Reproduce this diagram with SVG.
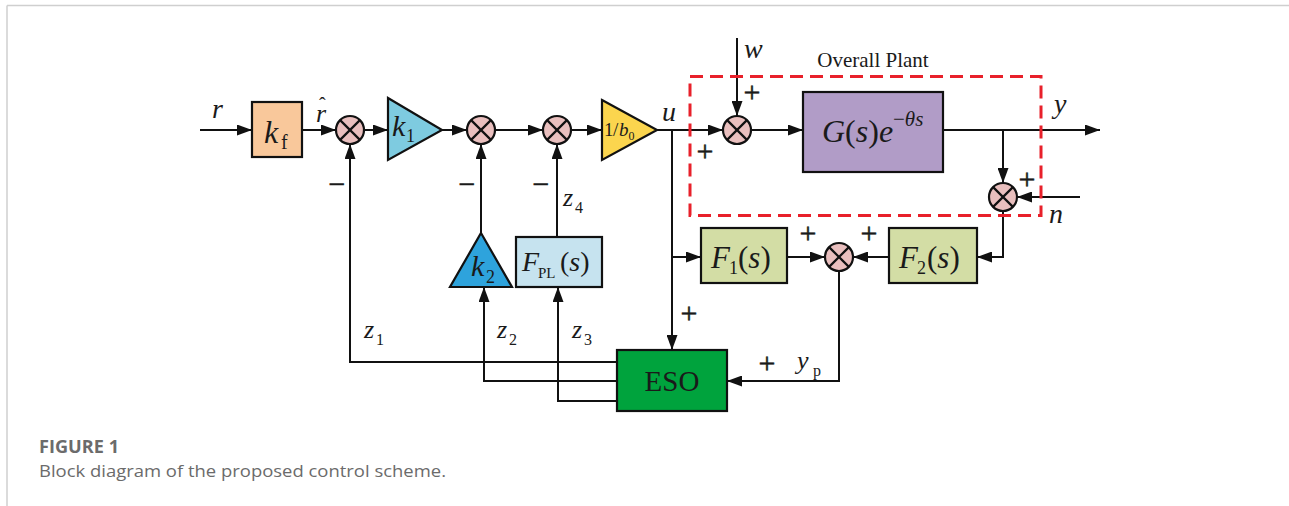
<svg xmlns="http://www.w3.org/2000/svg" width="1289" height="506" viewBox="0 0 1289 506">
<style>
.ln{fill:none;stroke:#111;stroke-width:2}
.bx{stroke:#111;stroke-width:2.2}
.sum circle{fill:#E9BFBE;stroke:#111;stroke-width:2.2}
.sum path{stroke:#111;stroke-width:2.2;fill:none}
.m{font-family:"Liberation Serif",serif;font-style:italic;fill:#1a1a1a}
.t{font-family:"Liberation Serif",serif;fill:#1a1a1a}
.sg{font-family:"Liberation Serif",serif;fill:#1a1a1a;stroke:#1a1a1a;stroke-width:0.5}
.cap{font-family:"Open Sans","Lato",sans-serif;fill:#6b6b6b}
</style>
<defs>
<marker id="ar" markerUnits="userSpaceOnUse" markerWidth="15" markerHeight="11" refX="15" refY="5.5" orient="auto">
<path d="M0,0 L15,5.5 L0,11 z" fill="#111"/>
</marker>
</defs>
<rect x="0" y="0" width="1289" height="506" fill="#fff"/>
<path d="M7,5.5 H1289 M7,5.5 V506" fill="none" stroke="#cfcfcf" stroke-width="1.5"/>

<g id="connectors" class="ln" marker-end="url(#ar)">
<path d="M200,130 H252"/>
<path d="M302,130 H336"/>
<path d="M364,130 H388"/>
<path d="M442,130 H467"/>
<path d="M495,130 H543"/>
<path d="M571,130 H602"/>
<path d="M657,130 H723"/>
<path d="M737,38 V116"/>
<path d="M751,130 H803"/>
<path d="M943,130 H1100"/>
<path d="M1003,130 V183"/>
<path d="M1080,197 H1017"/>
<path d="M1003,211 V257 H977"/>
<path d="M672,130 V350"/>
<path d="M672,257 H701"/>
<path d="M787,257 H825"/>
<path d="M889,257 H853"/>
<path d="M839,271 V381 H727"/>
<path d="M617,362 H350 V144"/>
<path d="M617,381 H484 V287"/>
<path d="M617,401 H558 V287"/>
<path d="M481,233 V144"/>
<path d="M557,237 V144"/>
</g>

<g id="plant-boundary">
<rect x="690" y="76.5" width="351" height="139" fill="none" stroke="#E8202A" stroke-width="3" stroke-dasharray="13,7"/>
<text class="t" x="873" y="67" font-size="21" text-anchor="middle">Overall Plant</text>
</g>

<g id="kf">
<rect class="bx" x="252" y="102" width="50" height="55" fill="#F9C89B"/>
<text class="m" x="264" y="143" font-size="32">k</text>
<text class="t" x="281" y="149" font-size="20">f</text>
</g>

<g id="sum1" class="sum"><circle cx="350" cy="130" r="14"/><path d="M340.1,120.1 L359.9,139.9 M359.9,120.1 L340.1,139.9"/></g>
<g id="sum2" class="sum"><circle cx="481" cy="130" r="14"/><path d="M471.1,120.1 L490.9,139.9 M490.9,120.1 L471.1,139.9"/></g>
<g id="sum3" class="sum"><circle cx="557" cy="130" r="14"/><path d="M547.1,120.1 L566.9,139.9 M566.9,120.1 L547.1,139.9"/></g>
<g id="sum4" class="sum"><circle cx="737" cy="130" r="14"/><path d="M727.1,120.1 L746.9,139.9 M746.9,120.1 L727.1,139.9"/></g>
<g id="sum5" class="sum"><circle cx="1003" cy="197" r="14"/><path d="M993.1,187.1 L1012.9,206.9 M1012.9,187.1 L993.1,206.9"/></g>
<g id="sum6" class="sum"><circle cx="839" cy="257" r="14"/><path d="M829.1,247.1 L848.9,266.9 M848.9,247.1 L829.1,266.9"/></g>

<g id="k1">
<path class="bx" d="M388,98 L442,130 L388,160 z" fill="#7ECBE0"/>
<text class="m" x="392" y="136" font-size="30">k</text>
<text class="t" x="406" y="142" font-size="18">1</text>
</g>

<g id="inv-b0">
<path class="bx" d="M602,100 L657,130 L602,160 z" fill="#FBD54E"/>
<text class="t" x="604" y="136" font-size="19">1</text>
<text class="t" x="613" y="136" font-size="19">/</text>
<text class="m" x="619" y="136" font-size="19">b</text>
<text class="t" x="628.5" y="140" font-size="12">0</text>
</g>

<g id="plant-G">
<rect class="bx" x="803" y="92" width="140" height="80" fill="#B19CC7"/>
<text class="m" x="822" y="142" font-size="32">G<tspan font-style="normal">(</tspan>s<tspan font-style="normal">)</tspan>e</text>
<text class="m" x="893" y="126" font-size="21"><tspan font-style="normal">−</tspan>θs</text>
</g>

<g id="k2">
<path class="bx" d="M481,233 L512,287 L450,287 z" fill="#2EA3DC"/>
<text class="m" x="471" y="276" font-size="30">k</text>
<text class="t" x="486" y="283" font-size="18">2</text>
</g>

<g id="FPL">
<rect class="bx" x="516" y="237" width="86" height="50" fill="#C6E3EF"/>
<text class="m" x="522" y="271" font-size="28">F</text>
<text class="t" x="538" y="278" font-size="15">PL</text>
<text class="m" x="560" y="271" font-size="28"><tspan font-style="normal">(</tspan>s<tspan font-style="normal">)</tspan></text>
</g>

<g id="F1">
<rect class="bx" x="701" y="228" width="86" height="55" fill="#D3DDA5"/>
<text class="m" x="711" y="268" font-size="31">F</text>
<text class="t" x="729" y="274" font-size="18">1</text>
<text class="m" x="738" y="268" font-size="31"><tspan font-style="normal">(</tspan>s<tspan font-style="normal">)</tspan></text>
</g>

<g id="F2">
<rect class="bx" x="889" y="228" width="88" height="55" fill="#D3DDA5"/>
<text class="m" x="899" y="268" font-size="31">F</text>
<text class="t" x="917" y="274" font-size="18">2</text>
<text class="m" x="927" y="268" font-size="31"><tspan font-style="normal">(</tspan>s<tspan font-style="normal">)</tspan></text>
</g>

<g id="ESO">
<rect class="bx" x="617" y="350" width="110" height="61" fill="#00A33D"/>
<text class="t" x="672" y="391" font-size="29" text-anchor="middle">ESO</text>
</g>

<g id="labels">
<text class="m" x="212" y="118" font-size="28">r</text>
<text class="m" x="316" y="122" font-size="26">r</text>
<text class="t" x="319" y="112" font-size="20">ˆ</text>
<text class="m" x="662" y="121" font-size="28">u</text>
<text class="m" x="744" y="58" font-size="28">w</text>
<text class="m" x="1054" y="113" font-size="28">y</text>
<text class="m" x="1049" y="223" font-size="28">n</text>
<text class="m" x="797" y="369" font-size="26">y</text>
<text class="t" x="813" y="376" font-size="16">p</text>
<text class="m" x="364" y="338" font-size="26">z</text>
<text class="t" x="376" y="345" font-size="16">1</text>
<text class="m" x="497" y="338" font-size="26">z</text>
<text class="t" x="509" y="345" font-size="16">2</text>
<text class="m" x="572" y="338" font-size="26">z</text>
<text class="t" x="584" y="345" font-size="16">3</text>
<text class="m" x="563" y="206" font-size="26">z</text>
<text class="t" x="575" y="213" font-size="16">4</text>
<g class="sg" font-size="30" text-anchor="middle">
<text x="337" y="194">−</text>
<text x="467" y="194">−</text>
<text x="541" y="194">−</text>
<text x="752" y="102">+</text>
<text x="705" y="161">+</text>
<text x="1027" y="189">+</text>
<text x="808" y="243">+</text>
<text x="869" y="243">+</text>
<text x="689" y="323">+</text>
<text x="767" y="373">+</text>
</g>
</g>

<g id="caption">
<text class="cap" x="39" y="453" font-size="17" font-weight="700" fill="#747474" textLength="80" lengthAdjust="spacingAndGlyphs">FIGURE 1</text>
<text class="cap" x="39" y="477" font-size="15.5" textLength="407" lengthAdjust="spacingAndGlyphs">Block diagram of the proposed control scheme.</text>
</g>
</svg>
